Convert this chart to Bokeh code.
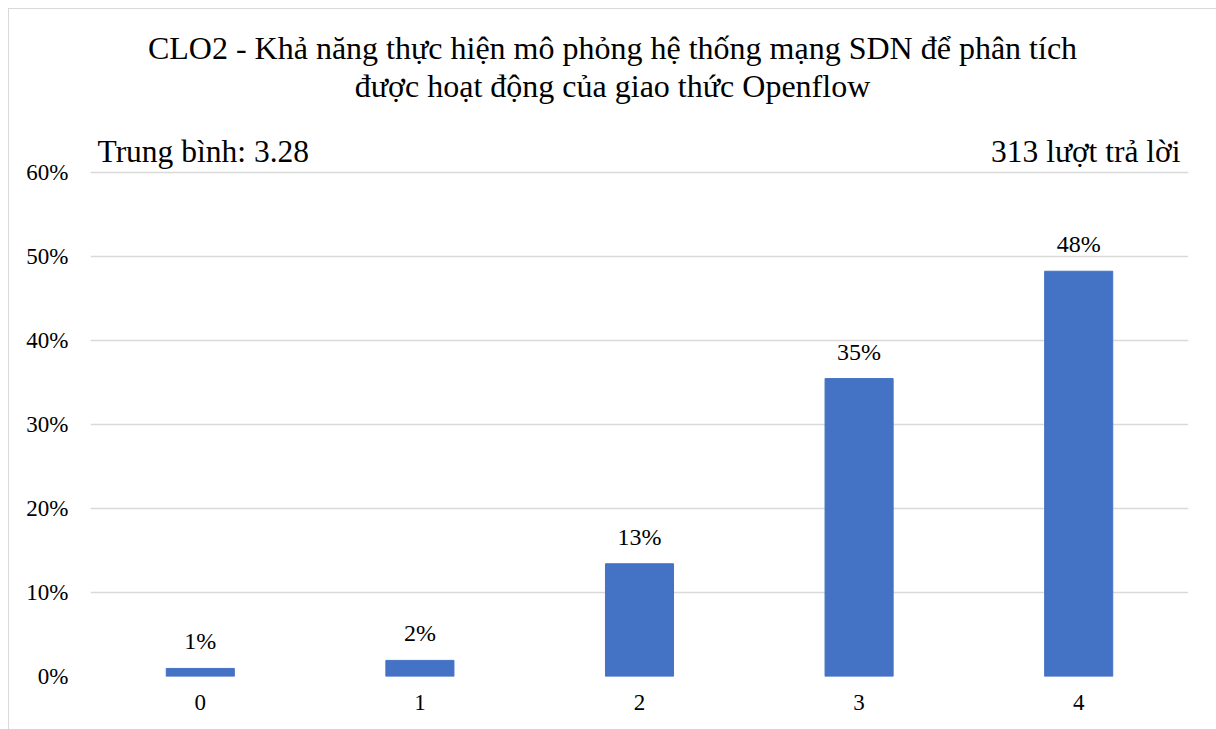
from bokeh.plotting import figure
from bokeh.models import (ColumnDataSource, FactorRange, Range1d, FixedTicker,
                          NumeralTickFormatter, Label)
from bokeh.core.properties import value
from bokeh.embed import file_html
from bokeh.resources import INLINE

# Survey results: number of answers per score
scores = ["0", "1", "2", "3", "4"]
counts = [3, 6, 42, 111, 151]
title_lines = ["CLO2 - Khả năng thực hiện mô phỏng hệ thống mạng SDN để phân tích",
               "được hoạt động của giao thức Openflow"]
y_ticks = [0.0, 0.1, 0.2, 0.3, 0.4, 0.5, 0.6]

total = sum(counts)
shares = [c / total for c in counts]
mean_score = sum(int(s) * c for s, c in zip(scores, counts)) / total
share_labels = [f"{round(v * 100)}%" for v in shares]

FONT = "Liberation Serif"
BLUE = "#4472C4"
GRID = "#d9d9d9"

src = ColumnDataSource(dict(score=scores, share=shares, label=share_labels))

# plot area reaches up to the top of the chart so the headings sit inside it
p = figure(width=1208, height=721, output_backend="svg", toolbar_location=None,
           x_range=FactorRange(*scores, range_padding=0),
           y_range=Range1d(0, 0.794),
           min_border_left=81, min_border_right=29, min_border_top=0,
           min_border_bottom=54)
p.outline_line_color = None
p.background_fill_color = "white"
p.border_fill_color = "white"
p.styles = {"margin-left": "8px", "margin-top": "8px",
            "border-left": f"1px solid {GRID}", "border-top": f"1px solid {GRID}"}

p.vbar(x="score", top="share", width=0.31, source=src, color=BLUE)
p.text(x="score", y="share", text="label", source=src, text_align="center",
       text_baseline="alphabetic", y_offset=-27, text_font=value(FONT),
       text_font_size="24px", text_color="black")

# axes
p.yaxis.ticker = FixedTicker(ticks=y_ticks)
p.yaxis.formatter = NumeralTickFormatter(format="0%")
for ax in (p.xaxis[0], p.yaxis[0]):
    ax.axis_line_color = None
    ax.major_tick_line_color = None
    ax.minor_tick_line_color = None
    ax.major_label_text_font = FONT
    ax.major_label_text_font_size = "23px"
    ax.major_label_text_color = "black"
p.yaxis.major_label_standoff = 16
p.xaxis.major_label_standoff = 12

p.xgrid.grid_line_color = None
p.ygrid.grid_line_color = GRID
p.ygrid.grid_line_width = 1.5

# title and header notes
for i, line in enumerate(title_lines):
    p.add_layout(Label(x=522, y=629 - 38 * i, x_units="screen", y_units="screen",
                       text=line, text_align="center", text_baseline="alphabetic",
                       text_font=FONT, text_font_size="32px", text_color="black"))
p.add_layout(Label(x=7, y=525, x_units="screen", y_units="screen",
                   text=f"Trung bình: {mean_score:.2f}", text_align="left",
                   text_baseline="alphabetic", text_font=FONT,
                   text_font_size="31.5px", text_color="black"))
p.add_layout(Label(x=1090, y=525, x_units="screen", y_units="screen",
                   text=f"{total} lượt trả lời", text_align="right",
                   text_baseline="alphabetic", text_font=FONT,
                   text_font_size="31.5px", text_color="black"))

open("out.html", "w").write(file_html(p, INLINE))
